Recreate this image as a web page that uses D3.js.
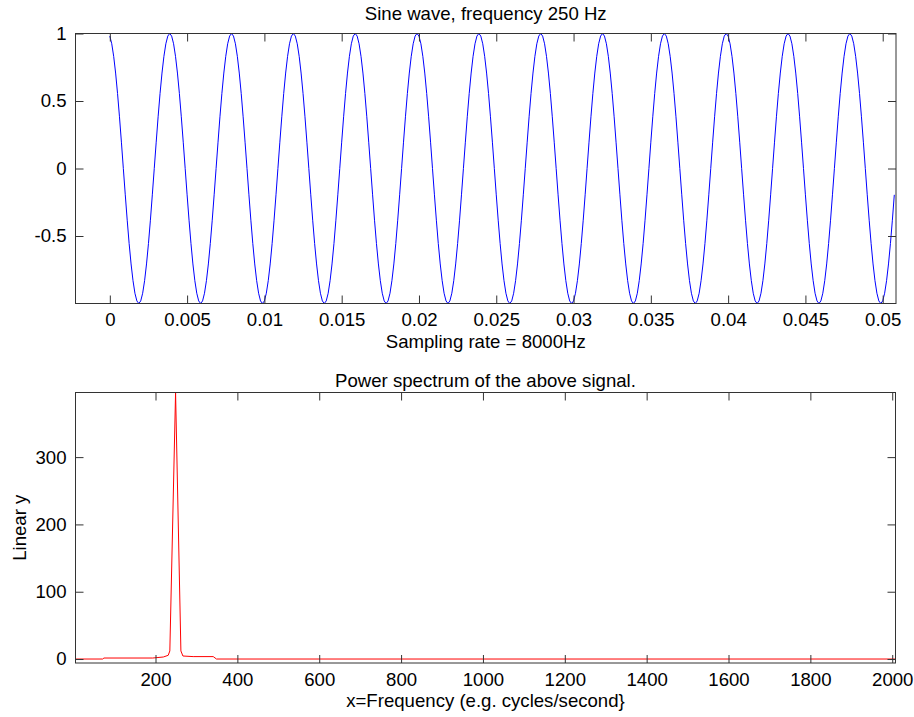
<!DOCTYPE html>
<html>
<head>
<meta charset="utf-8">
<script src="https://cdn.jsdelivr.net/npm/d3@7"></script>
<style>
  html, body { margin: 0; padding: 0; background: #fff; }
  svg { display: block; font-family: "Liberation Sans", Arial, Helvetica, sans-serif; }
  .axis text { font-size: 18.6px; fill: #000; }
  .axis line { stroke: #333; }
  .lbl { font-size: 18.6px; fill: #000; }
</style>
</head>
<body>
<svg id="chart" width="914" height="717"></svg>
<script>
// ---- Signal: cosine at 250 Hz, 8000 samples per second ----
const signalFrequency = 250;          // Hz
const samplingRate = 8000;            // samples per second
const sampleCount = 407;
// One period (32 samples) of the recorded waveform
const cycleSamples = [
  0.981, 0.924, 0.831, 0.707, 0.556, 0.383, 0.195, 0.000,
  -0.195, -0.383, -0.556, -0.707, -0.831, -0.924, -0.981, -1.000,
  -0.981, -0.924, -0.831, -0.707, -0.556, -0.383, -0.195, 0.000,
  0.195, 0.383, 0.556, 0.707, 0.831, 0.924, 0.981, 1.000
];
const timeTicks = [0, 0.005, 0.01, 0.015, 0.02, 0.025, 0.03, 0.035, 0.04, 0.045, 0.05];
const timeTickLabels = ["0", "0.005", "0.01", "0.015", "0.02", "0.025", "0.03", "0.035", "0.04", "0.045", "0.05"];
const ampTicks = [-0.5, 0, 0.5, 1];
const ampTickLabels = ["-0.5", "0", "0.5", "1"];

// ---- Power spectrum (frequency in Hz, linear power) ----
const spectrumFreq  = [4.5, 71, 74, 193, 219, 231, 235, 249, 262, 267, 292, 341, 349, 2008];
const spectrumPower = [0,   0,  1.5, 1.5, 3,   5.5, 12,  396, 12,  4.5, 3.6, 3.6, 0,   0];
const freqTicks = [200, 400, 600, 800, 1000, 1200, 1400, 1600, 1800, 2000];
const powerTicks = [0, 100, 200, 300];

const svg = d3.select("#chart");

function drawPanel(cfg) {
  const { left, right, top, bottom } = cfg.box;
  const x = d3.scaleLinear().domain(cfg.xDomain).range([left, right]);
  const y = d3.scaleLinear().domain(cfg.yDomain).range([bottom, top]);
  const g = svg.append("g");
  const tick = 8;

  const clipId = "clip-" + cfg.id;
  g.append("clipPath").attr("id", clipId)
    .append("rect").attr("x", left).attr("y", top)
    .attr("width", right - left).attr("height", bottom - top);

  // data line
  g.append("path")
    .datum(cfg.data)
    .attr("clip-path", `url(#${clipId})`)
    .attr("fill", "none")
    .attr("stroke", cfg.color)
    .attr("stroke-width", 1)
    .attr("d", d3.line().x(d => x(d[0])).y(d => y(d[1])));

  // axes, ticks pointing inward on all four sides
  const fmtX = d => cfg.xLabels[cfg.xTicks.indexOf(d)];
  const fmtY = d => cfg.yLabels[cfg.yTicks.indexOf(d)];
  const axB = g.append("g").attr("class", "axis").attr("transform", `translate(0,${bottom})`)
    .call(d3.axisBottom(x).tickValues(cfg.xTicks).tickFormat(fmtX).tickSizeInner(-tick).tickSizeOuter(0).tickPadding(9.5));
  const axT = g.append("g").attr("class", "axis").attr("transform", `translate(0,${top})`)
    .call(d3.axisTop(x).tickValues(cfg.xTicks).tickFormat("").tickSizeInner(-tick).tickSizeOuter(0));
  const axL = g.append("g").attr("class", "axis").attr("transform", `translate(${left},0)`)
    .call(d3.axisLeft(y).tickValues(cfg.yTicks).tickFormat(fmtY).tickSizeInner(-tick).tickSizeOuter(0).tickPadding(9));
  const axR = g.append("g").attr("class", "axis").attr("transform", `translate(${right},0)`)
    .call(d3.axisRight(y).tickValues(cfg.yTicks).tickFormat("").tickSizeInner(-tick).tickSizeOuter(0));
  [axB, axT, axL, axR].forEach(a => { a.select(".domain").remove(); a.selectAll("text").attr("font-family", null).attr("font-size", null); });

  // box
  g.append("rect").attr("x", left).attr("y", top)
    .attr("width", right - left).attr("height", bottom - top)
    .attr("fill", "none").attr("stroke", "#333").attr("stroke-width", 1);

  const cx = (left + right) / 2;
  g.append("text").attr("class", "lbl").attr("x", cx).attr("y", top - cfg.titleGap)
    .attr("text-anchor", "middle").text(cfg.title);
  g.append("text").attr("class", "lbl").attr("x", cx).attr("y", bottom + 44)
    .attr("text-anchor", "middle").text(cfg.xTitle);
  if (cfg.yTitle) {
    g.append("text").attr("class", "lbl")
      .attr("transform", `translate(26,${(top + bottom) / 2}) rotate(-90)`)
      .attr("text-anchor", "middle").text(cfg.yTitle);
  }
}

// time series built from the repeating period
const signal = d3.range(sampleCount).map(n => [n / samplingRate, cycleSamples[n % cycleSamples.length]]);

drawPanel({
  id: "wave",
  box: { left: 75.5, right: 896, top: 33.5, bottom: 303.5 },
  xDomain: [-0.00222, 0.05086],
  yDomain: [-1, 1],
  xTicks: timeTicks, xLabels: timeTickLabels,
  yTicks: ampTicks, yLabels: ampTickLabels,
  data: signal,
  color: "#0000ff",
  titleGap: 13.5,
  title: `Sine wave, frequency ${signalFrequency} Hz`,
  xTitle: `Sampling rate = ${samplingRate}Hz`
});

drawPanel({
  id: "spectrum",
  box: { left: 75.5, right: 895.5, top: 392.5, bottom: 663 },
  xDomain: [4.5, 2008],
  yDomain: [-5.9, 396],
  xTicks: freqTicks, xLabels: freqTicks.map(String),
  yTicks: powerTicks, yLabels: powerTicks.map(String),
  data: spectrumFreq.map((f, i) => [f, spectrumPower[i]]),
  color: "#ff0000",
  titleGap: 5.5,
  title: "Power spectrum of the above signal.",
  xTitle: "x=Frequency (e.g. cycles/second}",
  yTitle: "Linear y"
});
</script>
</body>
</html>
